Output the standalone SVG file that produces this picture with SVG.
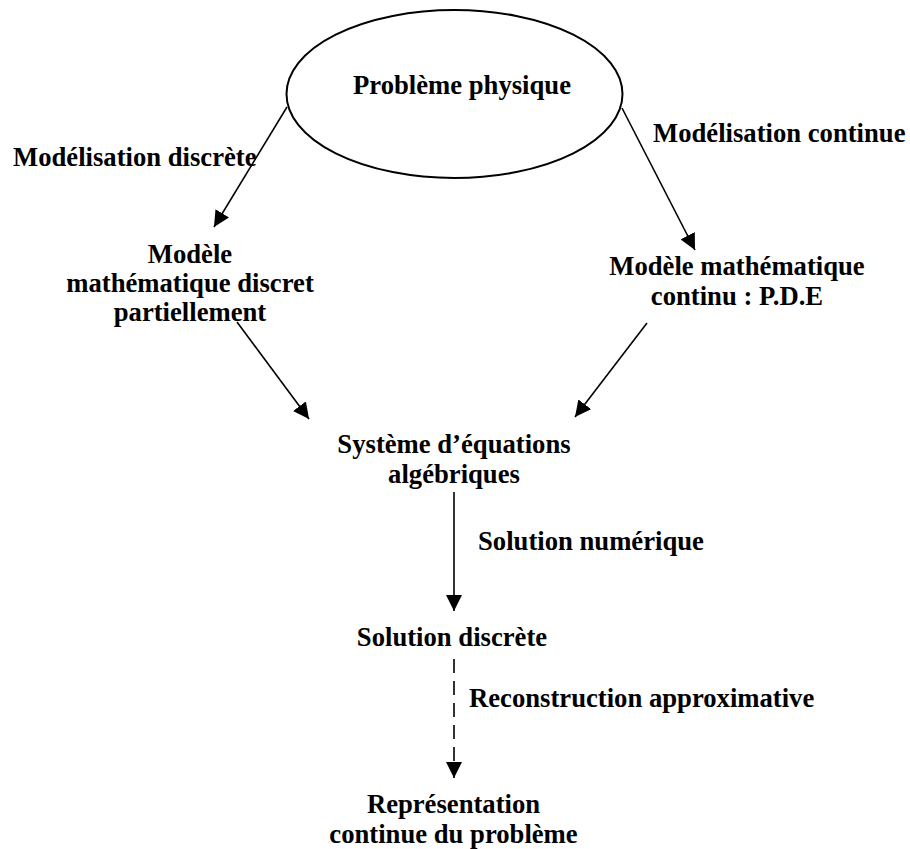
<svg xmlns="http://www.w3.org/2000/svg" width="910" height="849" viewBox="0 0 910 849">
<style>
text{font-family:"Liberation Serif","Times New Roman",serif;font-weight:bold;font-size:26.67px;fill:#000}
.c{text-anchor:middle}
.ln{stroke:#000;stroke-width:1.6;fill:none}
.dash{stroke-dasharray:14 8}
</style>
<defs>
<marker id="ah" viewBox="0 0 16 16" markerWidth="16" markerHeight="16" refX="16" refY="8" orient="auto" markerUnits="userSpaceOnUse">
<path d="M0,0 L16,8 L0,16 z" fill="#000"/>
</marker>
</defs>
<rect width="910" height="849" fill="#fff"/>
<g id="probleme">
<ellipse cx="454.5" cy="94" rx="168" ry="84" fill="none" stroke="#000" stroke-width="2"/>
<text x="462" y="94" class="c">Problème physique</text>
</g>
<g id="modele-discret">
<text x="190" y="263" class="c">Modèle</text>
<text x="190" y="292" class="c">mathématique discret</text>
<text x="190" y="321" class="c">partiellement</text>
</g>
<g id="modele-continu">
<text x="737" y="275" class="c">Modèle mathématique</text>
<text x="737" y="305" class="c">continu : P.D.E</text>
</g>
<g id="systeme">
<text x="454" y="453" class="c">Système d’équations</text>
<text x="454" y="483" class="c">algébriques</text>
</g>
<g id="solution-discrete">
<text x="452" y="646" class="c">Solution discrète</text>
</g>
<g id="representation">
<text x="453.5" y="813" class="c">Représentation</text>
<text x="453.5" y="843" class="c">continue du problème</text>
</g>
<g id="connectors">
<line class="ln" x1="287" y1="107" x2="214" y2="227" marker-end="url(#ah)"/>
<line class="ln" x1="622" y1="108" x2="695" y2="250" marker-end="url(#ah)"/>
<line class="ln" x1="237" y1="322" x2="309" y2="419" marker-end="url(#ah)"/>
<line class="ln" x1="647" y1="323" x2="575" y2="417" marker-end="url(#ah)"/>
<line class="ln" x1="454" y1="492" x2="454" y2="611" marker-end="url(#ah)"/>
<line class="ln dash" x1="454" y1="659" x2="454" y2="778" marker-end="url(#ah)"/>
<text x="13" y="166">Modélisation discrète</text>
<text x="653" y="142">Modélisation continue</text>
<text x="478" y="550">Solution numérique</text>
<text x="469" y="707">Reconstruction approximative</text>
</g>
</svg>
